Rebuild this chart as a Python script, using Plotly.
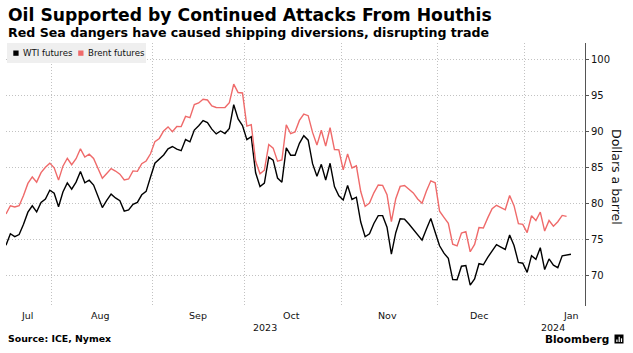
import plotly.graph_objects as go

# ---------------- data ----------------
JUL = [17, 18, 19, 20, 21, 24, 25, 26, 27, 28, 31]
AUG = [1, 2, 3, 4, 7, 8, 9, 10, 11, 14, 15, 16, 17, 18, 21, 22, 23, 24, 25, 28, 29, 30, 31]
SEP = [1, 4, 5, 6, 7, 8, 11, 12, 13, 14, 15, 18, 19, 20, 21, 22, 25, 26, 27, 28, 29]
OCT = [2, 3, 4, 5, 6, 9, 10, 11, 12, 13, 16, 17, 18, 19, 20, 23, 24, 25, 26, 27, 30, 31]
NOV = [1, 2, 3, 6, 7, 8, 9, 10, 13, 14, 15, 16, 17, 20, 21, 22, 23, 24, 27, 28, 29, 30]
DEC = [1, 4, 5, 6, 7, 8, 11, 12, 13, 14, 15, 18, 19, 20, 21, 22, 26, 27, 28, 29]
JAN = [2, 3, 4, 5, 8, 9, 10, 11, 12, 15, 16]

DATES = ([f"2023-07-{d:02d}" for d in JUL] + [f"2023-08-{d:02d}" for d in AUG]
         + [f"2023-09-{d:02d}" for d in SEP] + [f"2023-10-{d:02d}" for d in OCT]
         + [f"2023-11-{d:02d}" for d in NOV] + [f"2023-12-{d:02d}" for d in DEC]
         + [f"2024-01-{d:02d}" for d in JAN])

WTI = [
    74.15, 75.75, 75.35, 75.63, 77.07, 78.74, 79.63, 78.78, 80.09, 80.58, 81.80,
    81.37, 79.49, 81.55, 82.82, 81.94, 82.92, 84.40, 82.82, 83.19, 82.51, 80.99, 79.38,
    80.39, 81.25, 80.72, 80.35, 78.89, 79.05, 79.83, 80.10, 81.16, 81.63, 83.63,
    85.55, None, 86.69, 87.54, 87.87, 87.51, 87.29, 88.84, 88.52, 90.16, 90.77, 91.48,
    91.20, 90.28, 89.63, 90.03, 89.68, 90.39, 93.68, 91.71, 90.79,
    88.82, 89.23, 84.22, 82.31, 82.79, 86.38, 85.97, 83.49, 82.91, 87.69, 86.66, 86.66,
    88.32, 89.37, 88.75, 85.49, 83.74, 85.39, 83.21, 85.54, 82.31, 81.02,
    80.44, 82.46, 80.51, 80.82, 77.37, 75.33, 75.74, 77.17, 78.26, 78.26, 76.66, 72.90,
    75.89, 77.83, 77.77, 77.10, None, 75.54, 74.86, 76.41, 77.86, 75.96,
    74.07, 73.04, 72.32, 69.38, 69.34, 71.23, 71.32, 68.61, 69.47, 71.58, 71.43, 72.47,
    73.44, 74.22, 73.89, 73.56, 75.57, 74.11, 71.77, 71.65,
    70.38, 72.70, 72.19, 73.81, 70.77, 72.24, 71.37, 71.02, 72.68, None, 72.90,
]

BRENT = [
    78.50, 79.63, 79.46, 79.64, 81.07, 82.74, 83.64, 82.92, 84.24, 84.99, 85.56,
    84.91, 83.20, 85.14, 86.24, 85.34, 86.17, 87.55, 86.40, 86.81, 86.21, 84.89, 83.45,
    84.12, 84.80, 84.46, 84.03, 83.21, 83.36, 84.48, 84.42, 85.49, 85.86, 86.86,
    88.55, 88.99, 90.04, 90.60, 89.92, 90.65, 90.64, 92.06, 91.88, 93.70, 93.93, 94.43,
    94.34, 93.53, 93.30, 93.27, 93.29, 93.96, 96.55, 95.38, 95.31,
    90.71, 90.92, 85.81, 84.07, 84.58, 88.15, 87.65, 85.82, 86.00, 90.89, 89.65, 89.90,
    91.50, 92.38, 92.16, 89.83, 88.07, 90.13, 87.93, 90.48, 87.45, 87.41,
    84.63, 86.85, 84.89, 85.18, 81.61, 79.54, 80.01, 81.43, 82.52, 82.47, 81.18, 77.42,
    80.61, 82.32, 82.45, 81.96, 81.42, 80.58, 79.98, 81.68, 83.10, 82.83,
    78.88, 78.03, 77.20, 74.30, 74.05, 75.84, 76.03, 73.24, 74.26, 76.61, 76.55, 77.95,
    79.23, 79.70, 79.39, 79.07, 81.07, 79.65, 77.15, 77.04,
    75.89, 78.25, 77.59, 78.76, 76.12, 77.59, 76.80, 77.41, 78.29, 78.15, None,
]

SERIES_NAMES = ["WTI futures", "Brent futures"]
MONTH_LABELS = ["Jul", "Aug", "Sep", "Oct", "Nov", "Dec", "Jan"]
MONTH_LABEL_AT = ["2023-07-21 21:00", "2023-08-15 14:00", "2023-09-14 22:00",
                  "2023-10-16 02:00", "2023-11-15 02:00", "2023-12-14 02:00",
                  "2024-01-16 02:00"]
YEAR_LABELS = ["2023", "2024"]
YEAR_LABEL_AT = ["2023-10-06 02:00", "2024-01-10"]
Y_TICKS = [70, 75, 80, 85, 90, 95, 100]

# month boundary gridlines (half-way between last day of a month and first of next)
BOUNDARIES = [DATES[i - 1] + " 12:00" for i in range(1, len(DATES))
              if DATES[i][:7] != DATES[i - 1][:7]]

# ---------------- styling ----------------
W, H = 633, 353
L, R, T, B = 6, 585, 43, 306
PW, PH = R - L, B - T
FONT = "DejaVu Sans"
BLACK = "#000000"
RED = "#ef6a6a"
GRID = "#c2c2c2"


def px(x):
    return (x - L) / PW


def py(y):
    return (B - y) / PH


fig = go.Figure()
fig.add_trace(go.Scatter(x=DATES, y=WTI, name=SERIES_NAMES[0], mode="lines",
                         line=dict(color=BLACK, width=1.4), connectgaps=True,
                         showlegend=False))
fig.add_trace(go.Scatter(x=DATES, y=BRENT, name=SERIES_NAMES[1], mode="lines",
                         line=dict(color=RED, width=1.4), connectgaps=True,
                         showlegend=False))

annotations = []
shapes = []

# title / subtitle
annotations.append(dict(text="<b>Oil Supported by Continued Attacks From Houthis</b>",
                        xref="paper", yref="paper", x=px(6), y=py(15),
                        xanchor="left", yanchor="middle", showarrow=False,
                        font=dict(family=FONT, size=17.2, color="#000")))
annotations.append(dict(text="<b>Red Sea dangers have caused shipping diversions, disrupting trade</b>",
                        xref="paper", yref="paper", x=px(6), y=py(33),
                        xanchor="left", yanchor="middle", showarrow=False,
                        font=dict(family=FONT, size=12.6, color="#000")))

# legend box
shapes.append(dict(type="rect", xref="paper", yref="paper", x0=px(7), x1=px(146),
                   y0=py(63), y1=py(43), fillcolor="#efefef", line=dict(width=0),
                   layer="above"))
for (sx, tx, col, name) in [(13.3, 20.5, BLACK, SERIES_NAMES[0]),
                            (78.2, 85.6, RED, SERIES_NAMES[1])]:
    shapes.append(dict(type="rect", xref="paper", yref="paper", x0=px(sx), x1=px(sx + 5.3),
                       y0=py(55.8), y1=py(50.5), fillcolor=col, line=dict(width=0),
                       layer="above"))
    annotations.append(dict(text=name, xref="paper", yref="paper", x=px(tx), y=py(53.3),
                            xanchor="left", yanchor="middle", showarrow=False,
                            font=dict(family=FONT, size=8.6, color="#111")))

# month and year labels
for lab, at in zip(MONTH_LABELS, MONTH_LABEL_AT):
    annotations.append(dict(text=lab, xref="x", yref="paper", x=at, y=py(315),
                            xanchor="center", yanchor="middle", showarrow=False,
                            font=dict(family=FONT, size=9.5, color="#111")))
for lab, at in zip(YEAR_LABELS, YEAR_LABEL_AT):
    annotations.append(dict(text=lab, xref="x", yref="paper", x=at, y=py(327.5),
                            xanchor="center", yanchor="middle", showarrow=False,
                            font=dict(family=FONT, size=9.5, color="#111")))

# y axis title
annotations.append(dict(text="Dollars a barrel", xref="paper", yref="paper",
                        x=px(616.5), y=py(176.5), textangle=90, showarrow=False,
                        xanchor="center", yanchor="middle",
                        font=dict(family=FONT, size=12.5, color="#111")))

# footer
annotations.append(dict(text="<b>Source: ICE, Nymex</b>", xref="paper", yref="paper",
                        x=px(6), y=py(338), xanchor="left", yanchor="middle",
                        showarrow=False, font=dict(family=FONT, size=9.4, color="#000")))
annotations.append(dict(text="<b>Bloomberg</b>", xref="paper", yref="paper",
                        x=px(611), y=py(339), xanchor="right", yanchor="middle",
                        showarrow=False, font=dict(family=FONT, size=10.5, color="#000")))
shapes.append(dict(type="rect", xref="paper", yref="paper", x0=px(614.5), x1=px(623.5),
                   y0=py(343.5), y1=py(334.5), fillcolor="#000", line=dict(width=0)))
for bx, btop in [(616.3, 339.5), (618.6, 336.8), (620.9, 338.3)]:
    shapes.append(dict(type="rect", xref="paper", yref="paper", x0=px(bx), x1=px(bx + 1.2),
                       y0=py(342), y1=py(btop), fillcolor="#fff", line=dict(width=0)))

fig.update_layout(
    width=W, height=H,
    margin=dict(l=L, r=W - R, t=T, b=H - B, pad=0),
    paper_bgcolor="white", plot_bgcolor="white",
    font=dict(family=FONT, size=10, color="#111"),
    showlegend=False,
    annotations=annotations,
    shapes=shapes,
    xaxis=dict(
        type="date",
        range=["2023-07-17", "2024-01-19 05:00"],
        rangebreaks=[dict(bounds=["sat", "mon"]),
                     dict(values=["2023-12-25", "2024-01-01"])],
        tickmode="array", tickvals=BOUNDARIES, ticktext=[""] * len(BOUNDARIES),
        showticklabels=False, ticks="",
        showgrid=True, gridcolor=GRID, griddash="1px,2px", gridwidth=1,
        showline=False, zeroline=False, fixedrange=True,
    ),
    yaxis=dict(
        side="right",
        range=[65.7, 102.26],
        tickmode="array", tickvals=Y_TICKS, ticktext=[str(v) for v in Y_TICKS],
        showgrid=True, gridcolor=GRID, griddash="1px,2px", gridwidth=1,
        showline=True, linecolor="#555", linewidth=1,
        ticks="outside", ticklen=3, tickcolor="#555", tickwidth=1,
        tickfont=dict(family=FONT, size=10, color="#111"),
        zeroline=False, fixedrange=True,
    ),
)

fig.write_html("out.html")
